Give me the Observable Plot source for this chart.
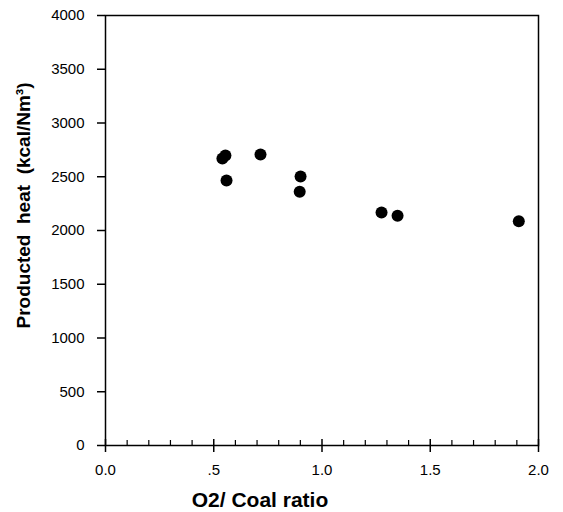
<!DOCTYPE html>
<html><head><meta charset="utf-8">
<script src="https://cdn.jsdelivr.net/npm/d3@7"></script>
<script src="https://cdn.jsdelivr.net/npm/@observablehq/plot@0.6"></script>
<style>body{margin:0;background:#fff}</style>
</head><body><div id="chart"></div>
<script>
const o2CoalRatio = [0.540, 0.554, 0.716, 0.559, 0.901, 0.897, 1.275, 1.349, 1.909];
const producedHeat = [2670, 2698, 2707, 2465, 2502, 2360, 2167, 2137, 2086];
const xMajorTicks = [0, 0.5, 1, 1.5, 2];
const xTickLabels = ["0.0", ".5", "1.0", "1.5", "2.0"];
const xMinorTicks = [0.1, 0.2, 0.3, 0.4, 0.6, 0.7, 0.8, 0.9, 1.1, 1.2, 1.3, 1.4, 1.6, 1.7, 1.8, 1.9];
const yTicks = [0, 500, 1000, 1500, 2000, 2500, 3000, 3500, 4000];
const xTitle = "O2/ Coal ratio";
const yTitle = "Producted  heat  (kcal/Nm³)";

const points = o2CoalRatio.map((x, i) => ({x, y: producedHeat[i]}));

const chart = Plot.plot({
  width: 563,
  height: 512,
  marginLeft: 105,
  marginRight: 25,
  marginTop: 15,
  marginBottom: 67,
  style: {fontFamily: "'Liberation Sans', Arial, sans-serif", fontSize: "15px", color: "black", background: "white"},
  x: {domain: [0, 2]},
  y: {domain: [0, 4000]},
  marks: [
    Plot.frame({stroke: "black", strokeWidth: 1.5}),
    Plot.axisY(yTicks, {tickSize: 8, tickPadding: 13, strokeWidth: 1.5, label: null, fontSize: 15,
      tickFormat: d => String(d)}),
    Plot.axisX(xMajorTicks, {tickSize: 7, tickPadding: 12, strokeWidth: 1.5, label: null, fontSize: 15,
      tickFormat: d => xTickLabels[xMajorTicks.indexOf(d)]}),
    Plot.axisX(xMajorTicks, {tickSize: 6, dy: -6, strokeWidth: 1.5, label: null, tickFormat: () => ""}),
    Plot.axisX(xMinorTicks, {tickSize: 5, dy: -5, strokeWidth: 1.2, label: null, tickFormat: () => ""}),
    Plot.dot(points, {x: "x", y: "y", r: 6, fill: "black", stroke: "none"}),
    Plot.text([xTitle], {text: d => d, frameAnchor: "bottom", textAnchor: "middle", lineAnchor: "middle",
      dx: -62, dy: 55, fontSize: 21, fontWeight: "bold"}),
    Plot.text([yTitle], {text: d => d, frameAnchor: "left", textAnchor: "middle", lineAnchor: "middle",
      dx: -82, dy: -25, rotate: -90, fontSize: 19, fontWeight: "bold"})
  ]
});
document.getElementById("chart").appendChild(chart);
</script>
</body></html>
